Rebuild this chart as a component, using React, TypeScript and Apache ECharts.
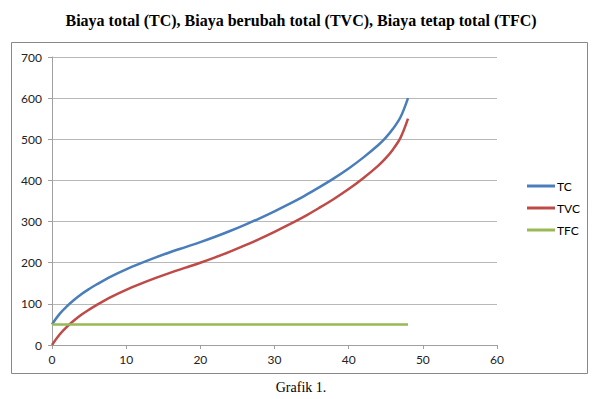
import React, { useEffect, useRef } from "react";
import * as echarts from "echarts";

const xValues = [0, 1, 2, 3, 4, 5, 6, 8, 10, 12, 14, 16, 18, 20, 22, 24, 26, 28, 30, 32, 34, 36, 38, 40, 42, 44, 45, 46, 47, 48];
const tvcValues = [0, 25, 44, 60, 74, 86, 97, 117, 134, 149, 163, 176, 188, 200, 213, 227, 242, 258, 275, 293, 312, 333, 355, 379, 406, 436, 454, 476, 504, 550];
const tcValues = [50, 75, 94, 110, 124, 136, 147, 167, 184, 199, 213, 226, 238, 250, 263, 277, 292, 308, 325, 343, 362, 383, 405, 429, 456, 486, 504, 526, 554, 600];
const tfcValues = [50, 50, 50, 50, 50, 50, 50, 50, 50, 50, 50, 50, 50, 50, 50, 50, 50, 50, 50, 50, 50, 50, 50, 50, 50, 50, 50, 50, 50, 50];
const seriesNames = ["TC", "TVC", "TFC"];
const colors = ["#4a7ebb", "#be4b48", "#98b954"];

export default function App() {
  const ref = useRef<HTMLDivElement>(null);
  useEffect(() => {
    const chart = echarts.init(ref.current!, null, { renderer: "svg" });
    const sets = [tcValues, tvcValues, tfcValues];
    chart.setOption({
      animation: false,
      backgroundColor: "#ffffff",
      title: {
        text: "Biaya total (TC), Biaya berubah total (TVC), Biaya tetap total (TFC)",
        left: "center",
        top: 7,
        textStyle: { fontFamily: "Liberation Serif", fontWeight: "bold", fontSize: 16, color: "#000" },
      },
      graphic: [
        {
          type: "rect",
          shape: { x: 11.5, y: 42.5, width: 576, height: 331 },
          style: { fill: "none", stroke: "#888888", lineWidth: 1 },
          z: -1,
        },
        {
          type: "text",
          left: "center",
          top: 380,
          style: { text: "Grafik 1.", font: "14px 'Liberation Serif'", fill: "#000" },
        },
      ],
      legend: {
        orient: "vertical",
        left: 522,
        top: 175,
        itemWidth: 28,
        itemHeight: 3,
        itemGap: 10,
        icon: "rect",
        textStyle: { fontFamily: "Lato", fontSize: 12, color: "#000", padding: [0, 0, 0, -3] },
        data: seriesNames,
      },
      grid: { left: 52, right: 105, top: 57, bottom: 54 },
      xAxis: {
        type: "value",
        min: 0,
        max: 60,
        interval: 10,
        axisLine: { lineStyle: { color: "#a0a0a0" } },
        axisTick: { show: true, length: 4, lineStyle: { color: "#a0a0a0" } },
        splitLine: { show: false },
        axisLabel: { fontFamily: "Lato", fontSize: 12, color: "#222", margin: 8 },
      },
      yAxis: {
        type: "value",
        min: 0,
        max: 700,
        interval: 100,
        axisLine: { show: true, lineStyle: { color: "#a0a0a0" } },
        axisTick: { show: true, length: 4, lineStyle: { color: "#a0a0a0" } },
        splitLine: { lineStyle: { color: "#b8b8b8" } },
        axisLabel: { fontFamily: "Lato", fontSize: 12, color: "#222", margin: 10 },
      },
      series: seriesNames.map((n, i) => ({
        name: n,
        type: "line",
        smooth: 0.35,
        showSymbol: false,
        symbol: "none",
        data: xValues.map((x, j) => [x, sets[i][j]]),
        lineStyle: { color: colors[i], width: 2.5 },
        itemStyle: { color: colors[i] },
      })),
    });
    return () => chart.dispose();
  }, []);
  return <div ref={ref} style={{ position: "fixed", left: 0, top: 0, width: 602, height: 399 }} />;
}
